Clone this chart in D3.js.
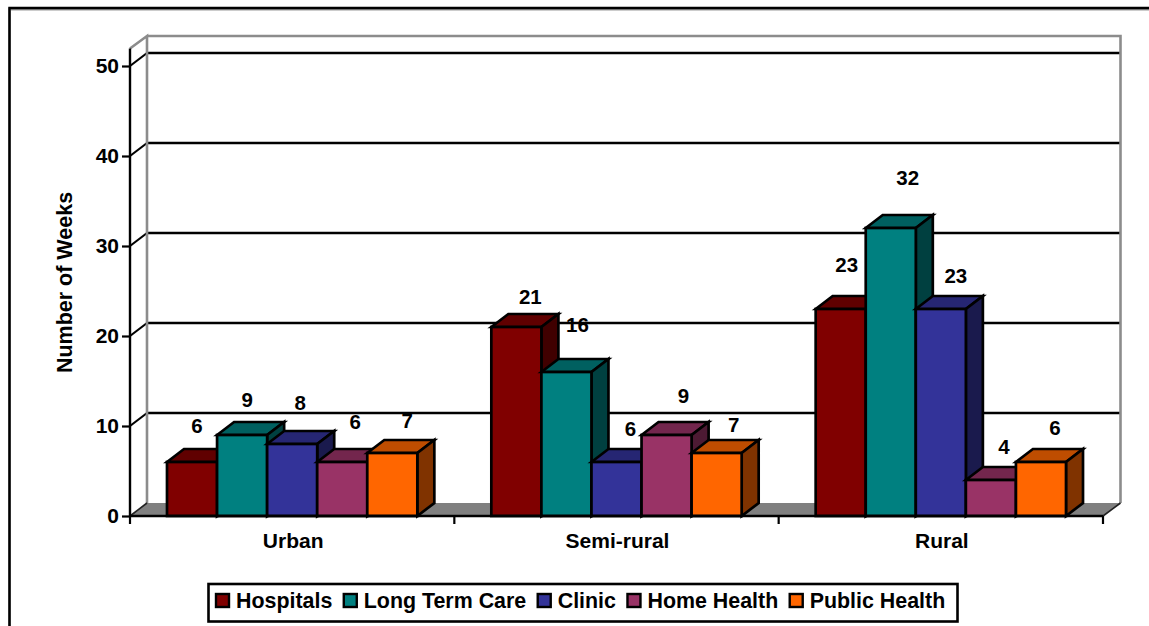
<!DOCTYPE html>
<html>
<head>
<meta charset="utf-8">
<script src="https://cdn.jsdelivr.net/npm/d3@7/dist/d3.min.js"></script>
<style>
  html, body { margin: 0; padding: 0; background: #fff; overflow: hidden; }
  svg { display: block; }
  text { font-family: "Liberation Sans", Arial, sans-serif; font-weight: bold; fill: #000; }
</style>
</head>
<body>
<div id="chart"></div>
<script>
// Weeks of placement by setting and community type
const categories = ["Urban", "Semi-rural", "Rural"];
const seriesNames = ["Hospitals", "Long Term Care", "Clinic", "Home Health", "Public Health"];
const hospitals = [6, 21, 23];
const longTermCare = [9, 16, 32];
const clinic = [8, 6, 23];
const homeHealth = [6, 9, 4];
const publicHealth = [7, 7, 6];
const yTicks = [0, 10, 20, 30, 40, 50];
const yTitle = "Number of Weeks";

// Per-series fill shades for the front, top and side faces of each block
const faceColors = [
  { front: "#800000", top: "#600000", side: "#400000" },
  { front: "#008080", top: "#006060", side: "#004040" },
  { front: "#333399", top: "#262673", side: "#1a1a4d" },
  { front: "#993366", top: "#73264d", side: "#4d1a33" },
  { front: "#ff6600", top: "#bf4d00", side: "#803300" }
];

// Hand-placed nudges for the value labels, [dx, dy] from each block's top centre
const labelNudges = [
  [[5, -36], [14, -30], [6, -44]],
  [[5, -35], [11, -47], [17, -50]],
  [[8, -41], [14, -33], [15, -33]],
  [[13, -40], [17, -39], [13, -33]],
  [[15, -32], [17, -28], [14, -34]]
];

const width = 1149, height = 626;
const depthX = 17, depthY = 13;
const plot = { left: 130, right: 1103, bottom: 516, top: 66 };
const seriesValues = [hospitals, longTermCare, clinic, homeHealth, publicHealth];

const svg = d3.select("#chart").append("svg").attr("width", width).attr("height", height);

const y = d3.scaleLinear().domain([0, 50]).range([plot.bottom, plot.top]);
const x = d3.scaleBand().domain(categories).range([plot.left, plot.right]);
const barBand = d3.scaleBand().domain(seriesNames).range([37, x.bandwidth() - 37]);

// Outer frame: only its top and left edges fall inside the page
svg.append("path").attr("d", `M9.5,${height} V8.5 H${width}`)
  .attr("fill", "none").attr("stroke", "#9a9a9a").attr("stroke-width", 3)
  .attr("transform", "translate(0,0.5)");
svg.append("path").attr("d", `M9.5,${height} V8 H${width}`)
  .attr("fill", "none").attr("stroke", "#000").attr("stroke-width", 2.4);

// Back wall gridlines and their diagonal ties to the front axis
const wallLeft = plot.left + depthX, wallRight = plot.right + depthX + 0.5;
const wallTop = y(50) - depthY - 17, axisTop = y(50) - 17.5;

svg.append("g").selectAll("line").data(yTicks.filter(d => d > 0)).join("line")
  .attr("x1", wallLeft).attr("x2", wallRight)
  .attr("y1", d => y(d) - depthY).attr("y2", d => y(d) - depthY)
  .attr("stroke", "#000").attr("stroke-width", 2.4);

svg.append("g").selectAll("line").data(yTicks.filter(d => d > 0)).join("line")
  .attr("x1", plot.left).attr("x2", wallLeft)
  .attr("y1", d => y(d)).attr("y2", d => y(d) - depthY)
  .attr("stroke", "#000").attr("stroke-width", 2.2);

// Floor slab
svg.append("polygon")
  .attr("points", [[plot.left, y(0)], [wallLeft, y(0) - depthY], [wallRight, y(0) - depthY], [plot.right, y(0)]].join(" "))
  .attr("fill", "#808080");

// Wall outline in grey
svg.append("path")
  .attr("d", `M${plot.left},${axisTop} L${wallLeft},${wallTop} V${y(0) - depthY} M${wallLeft},${wallTop} H${wallRight} V${y(0) - depthY}`)
  .attr("fill", "none").attr("stroke", "#8c8c8c").attr("stroke-width", 2.6);
svg.append("path")
  .attr("d", `M${plot.left},${y(0)} L${wallLeft},${y(0) - depthY} M${plot.right},${y(0)} L${wallRight},${y(0) - depthY}`)
  .attr("fill", "none").attr("stroke", "#222").attr("stroke-width", 1.6);

// Blocks, painted left to right so each one overlaps its neighbour's side face
const blocks = [];
categories.forEach((cat, c) => {
  seriesNames.forEach((name, s) => {
    blocks.push({ cat, name, s, c, value: seriesValues[s][c] });
  });
});

const block = svg.append("g").selectAll("g").data(blocks).join("g")
  .attr("stroke", "#000").attr("stroke-width", 2.7).attr("stroke-linejoin", "miter");

const x0 = d => x(d.cat) + barBand(d.name);
const x1 = d => x0(d) + barBand.bandwidth();

block.append("polygon")
  .attr("fill", d => faceColors[d.s].top)
  .attr("points", d => [[x0(d), y(d.value)], [x0(d) + depthX, y(d.value) - depthY],
                        [x1(d) + depthX, y(d.value) - depthY], [x1(d), y(d.value)]].join(" "));
block.append("polygon")
  .attr("fill", d => faceColors[d.s].side)
  .attr("points", d => [[x1(d), y(d.value)], [x1(d) + depthX, y(d.value) - depthY],
                        [x1(d) + depthX, y(0) - depthY], [x1(d), y(0)]].join(" "));
block.append("rect")
  .attr("fill", d => faceColors[d.s].front)
  .attr("x", x0).attr("y", d => y(d.value))
  .attr("width", barBand.bandwidth()).attr("height", d => y(0) - y(d.value));

// Value labels sit above the blocks, drawn last so they stay on top
svg.append("g").selectAll("text").data(blocks).join("text")
  .attr("x", d => x0(d) + barBand.bandwidth() / 2 + labelNudges[d.s][d.c][0])
  .attr("y", d => y(d.value) + labelNudges[d.s][d.c][1])
  .attr("dy", "0.35em").attr("text-anchor", "middle")
  .attr("font-size", 20.5)
  .text(d => d.value);

// Vertical axis
const yAxis = d3.axisLeft(y).tickValues(yTicks).tickSize(8).tickPadding(3).tickFormat(d3.format("d"));
const yAxisG = svg.append("g").attr("transform", `translate(${plot.left},0)`).call(yAxis);
yAxisG.select(".domain").attr("d", `M0,${axisTop}V${y(0)}`).attr("stroke", "#000").attr("stroke-width", 2.4);
yAxisG.selectAll(".tick line").attr("stroke", "#000").attr("stroke-width", 2.2);
yAxisG.selectAll(".tick text").attr("font-size", 21)
  .style("font-family", '"Liberation Sans", Arial, sans-serif').style("font-weight", "bold");

// Horizontal axis with ticks on the category boundaries
const boundaries = [plot.left, ...categories.map(c => x(c) + x.bandwidth())];
svg.append("line").attr("x1", plot.left).attr("x2", plot.right)
  .attr("y1", y(0)).attr("y2", y(0)).attr("stroke", "#000").attr("stroke-width", 2.4);
svg.append("g").selectAll("line").data(boundaries).join("line")
  .attr("x1", d => d).attr("x2", d => d)
  .attr("y1", y(0)).attr("y2", y(0) + 8)
  .attr("stroke", "#000").attr("stroke-width", 2.2);
svg.append("g").selectAll("text").data(categories).join("text")
  .attr("x", d => x(d) + x.bandwidth() / 2 + 1)
  .attr("y", 548).attr("text-anchor", "middle").attr("font-size", 21)
  .text(d => d);

// Axis title
svg.append("text")
  .attr("transform", "translate(72,282.5) rotate(-90)")
  .attr("text-anchor", "middle").attr("font-size", 21.5)
  .text(yTitle);

// Legend, laid out by measuring each entry
const legend = svg.append("g");
legend.append("rect").attr("x", 208.5).attr("y", 584).attr("width", 749).attr("height", 37.5)
  .attr("fill", "#fff").attr("stroke", "#000").attr("stroke-width", 2.6);
let cursor = 215;
seriesNames.forEach((name, s) => {
  legend.append("rect").attr("x", cursor + 1).attr("y", 594).attr("width", 13).attr("height", 13)
    .attr("fill", faceColors[s].front).attr("stroke", "#000").attr("stroke-width", 2.4);
  const label = legend.append("text").attr("x", cursor + 21).attr("y", 608)
    .attr("font-size", 21.4).text(name);
  cursor += 21 + label.node().getComputedTextLength() + 10.5;
});
</script>
</body>
</html>
